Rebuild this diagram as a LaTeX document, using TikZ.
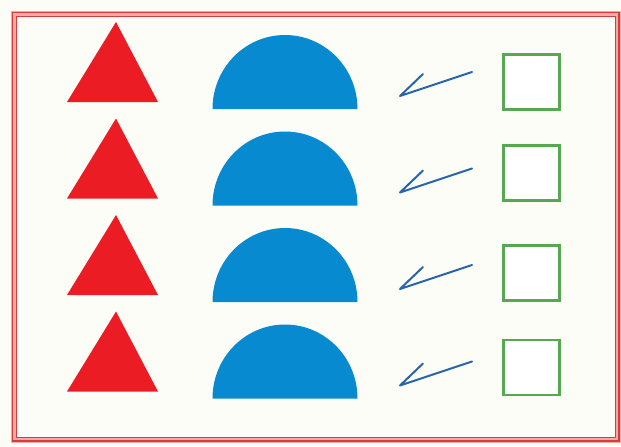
\documentclass[tikz,border=0pt]{standalone}
\definecolor{bg}{RGB}{253,253,247}
\definecolor{framered}{RGB}{214,60,60}
\definecolor{framepink}{RGB}{244,170,165}
\definecolor{trired}{RGB}{236,28,36}
\definecolor{semiblue}{RGB}{8,138,208}
\definecolor{sqgreen}{RGB}{88,168,82}
\definecolor{arrblue}{RGB}{40,100,172}
\begin{document}
\begin{tikzpicture}[x=1pt,y=-1pt,
  tri/.style={fill=trired,draw=none},
  semi/.style={fill=semiblue,draw=none},
  box/.style={draw=sqgreen,line width=2.5pt,fill=white,minimum width=56pt,minimum height=55pt,inner sep=0pt,anchor=north west},
  arr/.style={draw=arrblue,line width=2pt,line cap=round,line join=round}]
\useasboundingbox (0,0) rectangle (621,447);
\fill[bg] (0,0) rectangle (621,447);
% frame
\draw[framepink,line width=6pt] (13.5,13.5) rectangle (618,440);
\draw[framered,line width=1.4pt] (12.5,12.5) rectangle (619,441);
\draw[framered,line width=1pt] (16.5,16.5) rectangle (615,437);
\foreach \i/\dy/\sy in {1/0/53,2/96.5/144,3/193/244,4/289.5/338.5}{
  \begin{scope}[yshift=-\dy pt]
    \fill[tri] (116,22) -- (158,102) -- (67,102) -- cycle;
    \fill[semi] (212.5,109) arc[start angle=180,end angle=0,x radius=72.5,y radius=-74] -- cycle;
    \coordinate (t\i) at (400,96);
    \coordinate (e\i) at (472,72);
    \coordinate (b\i) at (423,74);
    \draw[arr] (e\i) -- (t\i) -- (b\i);
  \end{scope}
  \node[box] (s\i) at (502,\sy) {};
}
\end{tikzpicture}
\end{document}
